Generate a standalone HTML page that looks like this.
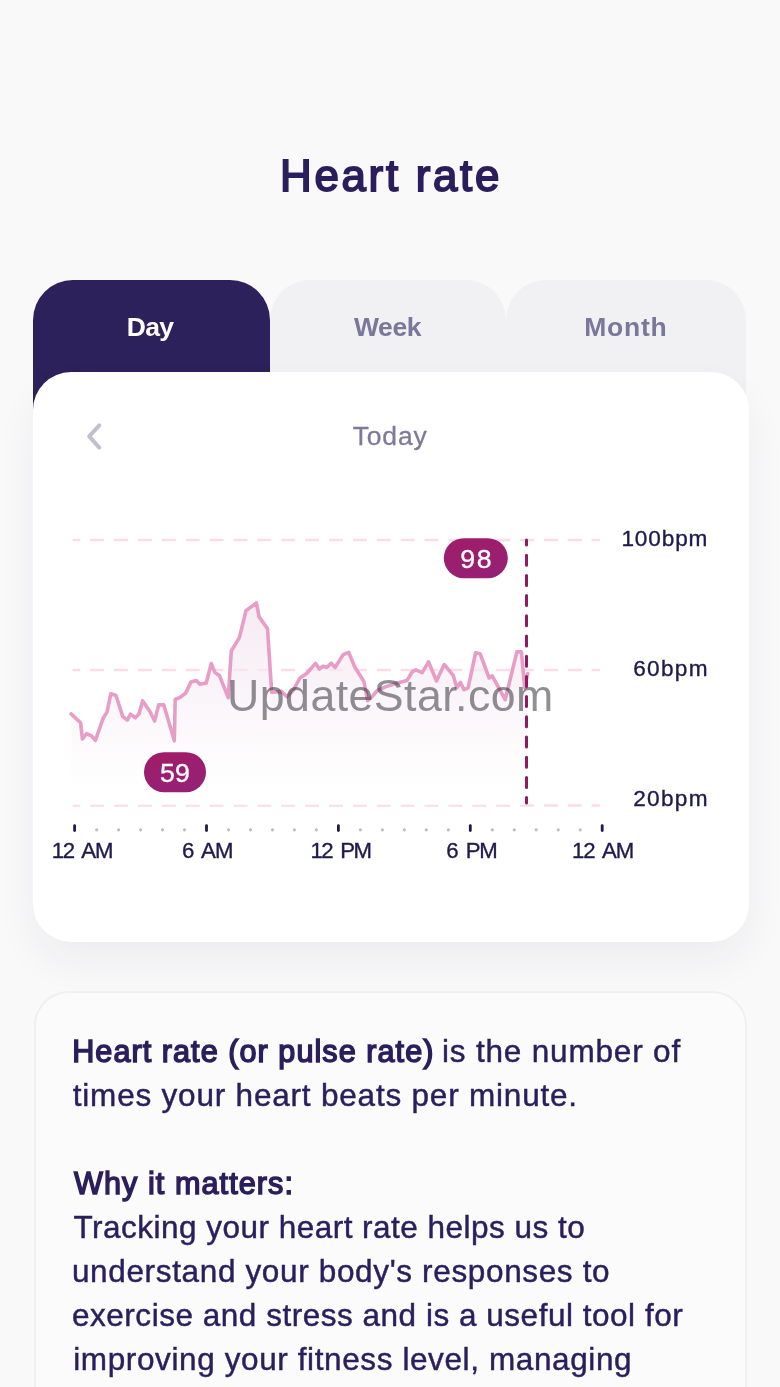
<!DOCTYPE html>
<html lang="en">
<head>
<meta charset="utf-8">
<title>Heart rate</title>
<style>
html,body{margin:0;padding:0;}
body{width:780px;height:1387px;overflow:hidden;background:#f9f9fa;position:relative;
  font-family:"Liberation Sans",sans-serif;color:#2a1f5c;}
.abs{position:absolute;white-space:nowrap;}
#title{top:150.1px;font-weight:normal;font-size:43.9px;line-height:52px;color:#2a1e5c;-webkit-text-stroke:1.8px #2a1e5c;}
.tab{position:absolute;top:280px;height:140px;border-radius:40px 40px 0 0;background:#f1f1f4;}
.tab span{position:absolute;top:30.5px;white-space:nowrap;font-weight:bold;font-size:26.5px;line-height:32px;color:#7b779b;}
#tab-day{left:32.5px;width:237.5px;background:#2d215b;}
#tab-day span{color:#fff;}
#tab-week{left:270px;width:236px;}
#tab-month{left:506px;width:240px;}
#card{position:absolute;left:32.5px;top:372px;width:716px;height:569.5px;border-radius:38px;background:#fff;
  box-shadow:0 20px 40px rgba(30,30,60,0.055);}
#today{top:420px;font-size:26.5px;line-height:32px;color:#7d7a9a;-webkit-text-stroke:0.3px #7d7a9a;}
#chart{position:absolute;left:0;top:0;width:780px;height:1387px;}
#chart text{font-family:"Liberation Sans",sans-serif;}
#info{position:absolute;left:34px;top:990.5px;width:712.5px;height:460px;border-radius:35px;background:#fbfbfc;
  border:2px solid #f0f0f2;box-sizing:border-box;}
.ln{position:absolute;white-space:nowrap;font-size:31.5px;line-height:44px;color:#2a1f5c;-webkit-text-stroke:0.45px #2a1f5c;}
.ln b{font-weight:normal;font-size:30.6px;-webkit-text-stroke:1.5px #2a1f5c;}
#wm{top:671.3px;font-size:44.7px;line-height:50px;color:rgba(50,50,55,0.54);}
</style>
</head>
<body>
<div id="title" class="abs" style="left:280.05px;letter-spacing:2.682px;">Heart rate</div>

<div class="tab" id="tab-day"><span id="tday" style="left:94.35px;letter-spacing:-0.775px;">Day</span></div>
<div class="tab" id="tab-week"><span id="tweek" style="left:83.95px;letter-spacing:-0.374px;">Week</span></div>
<div class="tab" id="tab-month"><span id="tmonth" style="left:78.25px;letter-spacing:0.750px;">Month</span></div>

<div id="card"></div>
<div id="today" class="abs" style="left:352.65px;letter-spacing:0.864px;">Today</div>

<svg id="chart" width="780" height="1387" viewBox="0 0 780 1387">
  <defs>
    <linearGradient id="fillg" x1="0" y1="600" x2="0" y2="788" gradientUnits="userSpaceOnUse">
      <stop offset="0" stop-color="#f0e0eb"/>
      <stop offset="1" stop-color="#ffffff"/>
    </linearGradient>
    <linearGradient id="badgeg" x1="0" y1="0" x2="0.3" y2="1">
      <stop offset="0" stop-color="#a01c69"/>
      <stop offset="1" stop-color="#962174"/>
    </linearGradient>
  </defs>
  <line x1="72.6" y1="540" x2="599.8" y2="540" stroke="#fadde7" stroke-width="2.6" stroke-dasharray="14 9.88" stroke-dashoffset="6.3"/>
  <line x1="72.6" y1="670" x2="599.8" y2="670" stroke="#fadde7" stroke-width="2.6" stroke-dasharray="14 9.88" stroke-dashoffset="6.3"/>
  <line x1="72.6" y1="805.5" x2="599.8" y2="805.5" stroke="#fadde7" stroke-width="2.6" stroke-dasharray="14 9.88" stroke-dashoffset="6.3"/>
  <path d="M71.1 713.9 L80.6 722.8 L82.4 739.0 L86.6 733.6 L91.4 735.8 L95.4 740.4 L103.1 718.3 L107.0 712.1 L110.8 693.8 L116.0 695.5 L122.8 716.6 L127.3 720.1 L130.5 714.2 L135.4 717.8 L139.0 713.9 L142.6 700.9 L149.8 711.2 L154.6 721.0 L158.7 704.9 L163.8 704.9 L174.3 740.8 L175.2 699.5 L179.4 697.7 L185.6 693.2 L191.0 681.9 L196.3 680.6 L199.9 684.2 L206.2 683.0 L211.2 663.6 L215.1 672.6 L219.6 675.8 L228.2 697.7 L231.3 651.0 L239.4 637.6 L246.0 610.6 L256.4 602.9 L259.1 616.9 L267.5 628.6 L271.7 692.3 L281.5 691.4 L286.9 696.8 L293.2 690.5 L299.9 678.0 L306.7 673.5 L315.5 663.4 L319.4 669.0 L322.9 666.3 L326.8 667.4 L331.2 663.2 L335.1 667.5 L343.2 654.6 L348.6 652.3 L354.9 667.2 L363.9 681.5 L367.7 700.8 L371.9 696.8 L377.3 690.5 L385.4 686.9 L396.2 683.3 L406.9 680.6 L412.3 671.7 L415.9 669.9 L422.2 672.6 L428.5 661.8 L436.5 681.0 L444.2 664.5 L453.2 675.3 L456.8 687.8 L460.4 682.4 L464.0 689.6 L468.1 687.8 L475.6 652.8 L480.1 653.7 L489.1 678.0 L492.2 675.8 L505.2 699.6 L516.9 651.9 L521.4 651.9 L524.7 687.8 L527.7 673.5 L527.7 805 L71.1 805 Z" fill="url(#fillg)" fill-opacity="0.65" stroke="none"/>
  <path d="M71.1 713.9 L80.6 722.8 L82.4 739.0 L86.6 733.6 L91.4 735.8 L95.4 740.4 L103.1 718.3 L107.0 712.1 L110.8 693.8 L116.0 695.5 L122.8 716.6 L127.3 720.1 L130.5 714.2 L135.4 717.8 L139.0 713.9 L142.6 700.9 L149.8 711.2 L154.6 721.0 L158.7 704.9 L163.8 704.9 L174.3 740.8 L175.2 699.5 L179.4 697.7 L185.6 693.2 L191.0 681.9 L196.3 680.6 L199.9 684.2 L206.2 683.0 L211.2 663.6 L215.1 672.6 L219.6 675.8 L228.2 697.7 L231.3 651.0 L239.4 637.6 L246.0 610.6 L256.4 602.9 L259.1 616.9 L267.5 628.6 L271.7 692.3 L281.5 691.4 L286.9 696.8 L293.2 690.5 L299.9 678.0 L306.7 673.5 L315.5 663.4 L319.4 669.0 L322.9 666.3 L326.8 667.4 L331.2 663.2 L335.1 667.5 L343.2 654.6 L348.6 652.3 L354.9 667.2 L363.9 681.5 L367.7 700.8 L371.9 696.8 L377.3 690.5 L385.4 686.9 L396.2 683.3 L406.9 680.6 L412.3 671.7 L415.9 669.9 L422.2 672.6 L428.5 661.8 L436.5 681.0 L444.2 664.5 L453.2 675.3 L456.8 687.8 L460.4 682.4 L464.0 689.6 L468.1 687.8 L475.6 652.8 L480.1 653.7 L489.1 678.0 L492.2 675.8 L505.2 699.6 L516.9 651.9 L521.4 651.9 L524.7 687.8 L527.7 673.5" fill="none" stroke="#e79dc5" stroke-width="3.6" stroke-linejoin="round" stroke-linecap="round"/>
  <line x1="526.5" y1="540" x2="526.5" y2="803" stroke="#8f1a60" stroke-width="3" stroke-linecap="round" stroke-dasharray="10 10.2" stroke-dashoffset="5"/>
  <line x1="74.6" y1="825.6" x2="74.6" y2="830.6" stroke="#1e1a4d" stroke-width="2.8" stroke-linecap="round"/>
  <circle cx="96.6" cy="829.8" r="1.6" fill="#bdbdc4"/>
  <circle cx="118.6" cy="829.8" r="1.6" fill="#bdbdc4"/>
  <circle cx="140.6" cy="829.8" r="1.6" fill="#bdbdc4"/>
  <circle cx="162.5" cy="829.8" r="1.6" fill="#bdbdc4"/>
  <circle cx="184.5" cy="829.8" r="1.6" fill="#bdbdc4"/>
  <line x1="206.5" y1="825.6" x2="206.5" y2="830.6" stroke="#1e1a4d" stroke-width="2.8" stroke-linecap="round"/>
  <circle cx="228.5" cy="829.8" r="1.6" fill="#bdbdc4"/>
  <circle cx="250.5" cy="829.8" r="1.6" fill="#bdbdc4"/>
  <circle cx="272.5" cy="829.8" r="1.6" fill="#bdbdc4"/>
  <circle cx="294.4" cy="829.8" r="1.6" fill="#bdbdc4"/>
  <circle cx="316.4" cy="829.8" r="1.6" fill="#bdbdc4"/>
  <line x1="338.4" y1="825.6" x2="338.4" y2="830.6" stroke="#1e1a4d" stroke-width="2.8" stroke-linecap="round"/>
  <circle cx="360.4" cy="829.8" r="1.6" fill="#bdbdc4"/>
  <circle cx="382.4" cy="829.8" r="1.6" fill="#bdbdc4"/>
  <circle cx="404.4" cy="829.8" r="1.6" fill="#bdbdc4"/>
  <circle cx="426.3" cy="829.8" r="1.6" fill="#bdbdc4"/>
  <circle cx="448.3" cy="829.8" r="1.6" fill="#bdbdc4"/>
  <line x1="470.3" y1="825.6" x2="470.3" y2="830.6" stroke="#1e1a4d" stroke-width="2.8" stroke-linecap="round"/>
  <circle cx="492.3" cy="829.8" r="1.6" fill="#bdbdc4"/>
  <circle cx="514.3" cy="829.8" r="1.6" fill="#bdbdc4"/>
  <circle cx="536.2" cy="829.8" r="1.6" fill="#bdbdc4"/>
  <circle cx="558.2" cy="829.8" r="1.6" fill="#bdbdc4"/>
  <circle cx="580.2" cy="829.8" r="1.6" fill="#bdbdc4"/>
  <line x1="602.2" y1="825.6" x2="602.2" y2="830.6" stroke="#1e1a4d" stroke-width="2.8" stroke-linecap="round"/>
  <!-- chevron -->
  <path d="M99.3 425.4 L89.2 436.4 L99.3 447.6" fill="none" stroke="#c1c0cd" stroke-width="4" stroke-linecap="round" stroke-linejoin="round"/>
  <!-- badges -->
  <rect x="443.8" y="538.2" width="64" height="40" rx="20" fill="url(#badgeg)"/>
  <text id="b98" x="460.35" y="567.9" font-size="26.7" letter-spacing="1.500" word-spacing="0" fill="#ffffff" stroke="#ffffff" stroke-width="0.35">98</text>
  <rect x="144" y="752.2" width="62" height="40" rx="20" fill="url(#badgeg)"/>
  <text id="b59" x="160.05" y="781.8" font-size="26.7" letter-spacing="0.050" word-spacing="0" fill="#ffffff" stroke="#ffffff" stroke-width="0.35">59</text>
  <!-- y labels -->
  <text id="y100" x="621.45" y="546.3" font-size="22.6" letter-spacing="0.870" word-spacing="0" fill="#1d1a4e" stroke="#1d1a4e" stroke-width="0.35">100bpm</text>
  <text id="y60" x="633.20" y="676.3" font-size="22.6" letter-spacing="1.326" word-spacing="0" fill="#1d1a4e" stroke="#1d1a4e" stroke-width="0.35">60bpm</text>
  <text id="y20" x="633.20" y="806.3" font-size="22.6" letter-spacing="1.328" word-spacing="0" fill="#1d1a4e" stroke="#1d1a4e" stroke-width="0.35">20bpm</text>
  <!-- x labels -->
  <text id="x0" x="51.70" y="858" font-size="22.2" letter-spacing="-1.179" word-spacing="3.5" fill="#1d1a4e" stroke="#1d1a4e" stroke-width="0.35">12 AM</text>
  <text id="x1" x="181.95" y="858" font-size="22.2" letter-spacing="-0.824" word-spacing="3.5" fill="#1d1a4e" stroke="#1d1a4e" stroke-width="0.35">6 AM</text>
  <text id="x2" x="310.50" y="858" font-size="22.2" letter-spacing="-1.546" word-spacing="3.5" fill="#1d1a4e" stroke="#1d1a4e" stroke-width="0.35">12 PM</text>
  <text id="x3" x="446.15" y="858" font-size="22.2" letter-spacing="-1.206" word-spacing="3.5" fill="#1d1a4e" stroke="#1d1a4e" stroke-width="0.35">6 PM</text>
  <text id="x4" x="572.00" y="858" font-size="22.2" letter-spacing="-1.032" word-spacing="3.5" fill="#1d1a4e" stroke="#1d1a4e" stroke-width="0.35">12 AM</text>
</svg>

<div id="wm" class="abs" style="left:227.10px;letter-spacing:0.439px;">UpdateStar.com</div>

<div id="info"></div>
<div class="ln" id="l0b" style="top:1029.00px;left:72.20px;letter-spacing:1.050px"><b>Heart rate (or pulse rate)</b></div>
<div class="ln" id="l0r" style="top:1029.00px;left:441.95px;letter-spacing:0.827px">is the number of</div>
<div class="ln" id="l1" style="top:1073.00px;left:72.75px;letter-spacing:0.800px">times your heart beats per minute.</div>
<div class="ln" id="l2" style="top:1161.00px;left:74.00px;letter-spacing:1.068px"><b>Why it matters:</b></div>
<div class="ln" id="l3" style="top:1205.00px;left:73.45px;letter-spacing:0.487px">Tracking your heart rate helps us to</div>
<div class="ln" id="l4" style="top:1249.00px;left:71.95px;letter-spacing:0.649px">understand your body's responses to</div>
<div class="ln" id="l5" style="top:1293.00px;left:72.00px;letter-spacing:0.521px">exercise and stress and is a useful tool for</div>
<div class="ln" id="l6" style="top:1337.00px;left:73.25px;letter-spacing:0.609px">improving your fitness level, managing</div>
</body>
</html>
